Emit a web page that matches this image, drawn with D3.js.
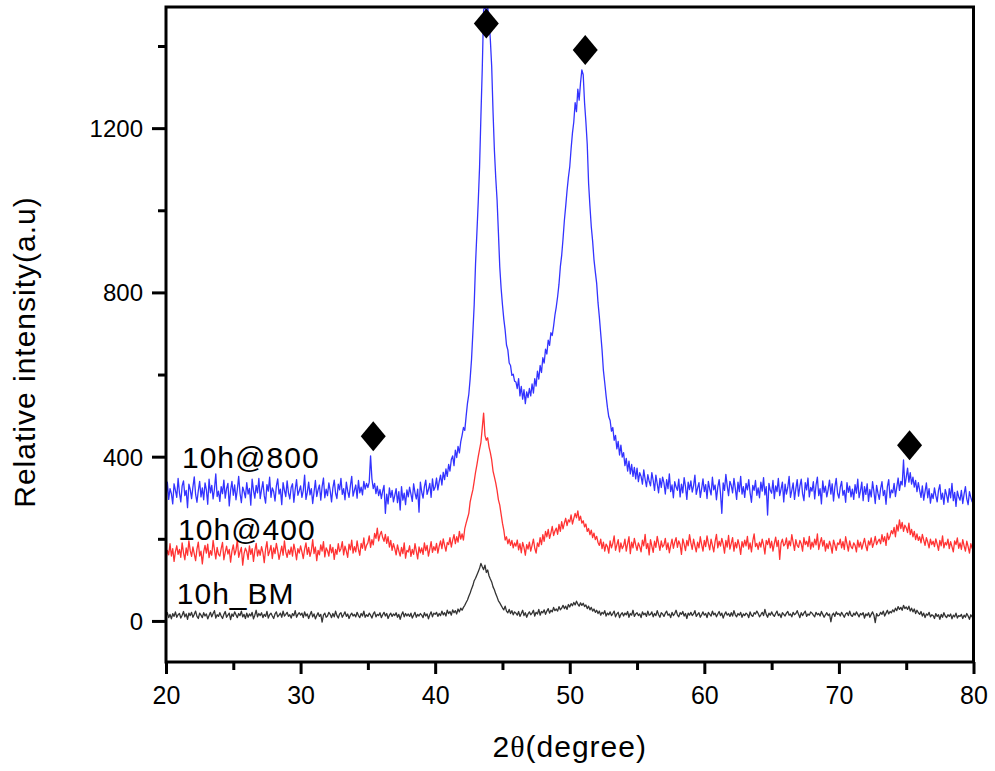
<!DOCTYPE html>
<html lang="en">
<head>
<meta charset="UTF-8">
<title>XRD patterns</title>
<script src="https://d3js.org/d3.v7.min.js"></script>
<style>
  body { margin: 0; background: #fff; }
  svg text { font-family: "Liberation Sans", Arial, sans-serif; fill: #000; }
</style>
</head>
<body>
<div id="chart"></div>
<script>
// sampling grid of the scans: 20.0 .. 80.0 in 0.1 degree steps
const thetaStart = 20, thetaStep = 0.1;

const xTicks = [20, 30, 40, 50, 60, 70, 80];
const xMinor = [25, 35, 45, 55, 65, 75];
const yTicks = [0, 400, 800, 1200];
const yMinor = [200, 600, 1000, 1400];

// 10h@800 (one row per degree)
const s800 = [
300,338,296,322,310,285,334,318,301,347,
312,290,329,341,305,318,276,333,320,298,
326,351,308,289,317,340,302,324,295,336,
319,284,345,312,330,297,321,358,303,316,
291,327,310,343,299,322,335,280,318,340,
306,331,295,320,352,311,288,326,315,300,
337,309,323,282,345,318,299,330,312,347,
298,320,339,305,287,332,316,350,301,324,
315,292,328,346,309,321,283,337,318,303,
341,312,297,325,334,289,320,344,306,317,
329,301,318,355,296,313,338,307,322,286,
314,342,303,319,331,294,327,348,300,321,
305,336,317,290,324,343,311,298,333,319,
347,308,322,295,338,316,301,329,352,304,
318,331,299,342,312,326,307,340,321,335,
325,338,402,346,322,335,310,328,305,320,
298,316,330,262,309,285,324,301,318,290,
306,322,288,315,270,327,294,311,283,319,
302,326,309,291,334,312,297,321,265,338,
314,299,327,343,308,320,335,301,346,318,
326,348,319,339,355,331,362,344,370,352,
381,365,393,402,378,416,398,425,409,436,
452,471,464,498,530,552,590,636,701,770,
870,945,1020,1106,1230,1345,1488,1496,1480,1496,
1465,1415,1350,1240,1147,1080,1025,945,862,810,
770,735,708,672,660,628,622,598,601,584,
582,566,590,548,571,540,563,529,558,544,
566,548,577,555,590,572,608,589,622,605,
641,628,662,650,684,671,702,695,718,745,
765,790,820,862,890,930,975,1010,1048,1080,
1106,1150,1188,1215,1262,1240,1295,1268,1310,1342,
1330,1262,1215,1160,1066,1010,960,925,880,850,
822,775,740,700,660,610,580,548,520,497,
488,462,471,440,452,419,437,404,428,399,
410,378,396,365,389,358,381,352,374,346,
372,339,361,352,333,368,345,327,356,340,
329,361,342,318,355,334,312,347,325,350,
336,309,344,322,358,315,331,300,339,326,
318,345,302,333,312,349,327,296,338,320,
341,314,329,355,308,324,337,301,322,346,
315,332,298,340,321,307,350,319,331,295,
326,344,311,262,336,318,357,329,305,340,
330,312,347,323,296,338,315,352,309,327,
301,335,319,344,312,289,330,318,342,306,
324,300,338,316,349,307,327,258,335,318,
311,342,298,329,315,347,305,321,338,290,
333,309,325,352,301,318,336,296,322,344,
304,328,345,310,293,337,319,348,302,325,
316,339,297,331,350,305,322,285,341,313,
328,302,320,343,309,334,292,326,347,311,
299,325,340,306,318,289,337,313,328,302,
321,296,332,311,345,300,316,338,293,327,
308,334,291,320,302,339,315,286,330,311,
296,322,339,305,318,284,327,344,300,319,
312,335,303,326,348,318,340,331,392,327,
349,372,338,361,333,350,326,342,315,337,
318,301,329,294,315,336,300,322,287,310,
298,324,305,290,318,332,296,311,284,320,
307,289,322,300,335,293,313,279,316,302,
294,318,286,309,327,297,283,315,301,290,
312
];

// 10h@400
const s400 = [
150,172,161,188,158,176,145,169,183,162,
174,155,190,166,149,178,160,195,171,157,
180,163,147,175,192,158,170,139,168,184,
165,187,154,171,160,196,173,151,179,162,
158,176,191,149,167,182,163,174,143,170,
185,161,172,198,155,168,179,136,164,177,
169,150,183,162,176,145,171,189,158,173,
160,181,167,142,175,193,159,170,184,152,
178,164,189,171,150,166,182,160,195,168,
155,173,162,180,158,187,171,149,176,165,
183,168,152,175,190,162,179,157,171,198,
164,180,147,172,161,185,170,193,156,178,
171,158,186,166,179,150,174,162,188,169,
176,193,161,182,170,155,187,173,197,165,
181,168,195,174,160,189,177,202,172,184,
190,207,179,198,185,213,201,226,195,210,
218,203,194,211,189,205,180,196,172,188,
176,161,185,170,158,179,164,190,153,172,
168,183,157,174,162,188,170,151,180,166,
178,162,190,171,184,158,175,193,167,181,
172,189,165,182,195,176,200,184,170,191,
186,203,180,197,210,188,205,192,218,199,
212,197,225,238,250,262,290,305,319,340,
362,380,400,418,435,470,506,452,440,446,
424,410,392,365,351,336,318,295,282,260,
238,221,197,205,188,199,184,196,178,190,
182,197,173,188,166,191,179,160,186,175,
192,170,184,199,177,165,190,181,203,186,
210,194,218,205,223,201,214,230,208,219,
226,211,235,218,242,224,238,250,232,246,
241,258,236,249,262,251,268,245,255,238,
244,229,236,218,225,210,221,203,214,198,
206,191,184,199,176,192,170,187,181,165,
195,178,189,207,172,185,198,168,190,176,
183,199,170,188,205,164,192,178,201,185,
172,190,181,168,197,183,211,176,189,161,
198,182,167,194,179,206,188,172,195,180,
185,201,174,190,166,184,199,177,192,203,
179,195,186,162,200,187,171,196,183,210,
190,174,199,183,168,192,178,205,186,170,
196,181,207,188,173,199,184,168,193,211,
178,194,182,201,187,165,196,180,208,175,
189,203,170,191,178,198,184,162,193,180,
197,183,206,175,190,168,195,212,181,189,
174,192,180,199,185,163,196,186,201,178,
194,170,188,204,181,196,150,189,199,183,
187,202,176,195,183,210,191,172,198,184,
179,196,188,170,203,186,194,181,206,175,
192,180,199,185,212,174,190,203,182,196,
170,188,176,194,183,165,197,185,172,190,
186,199,178,193,174,205,187,170,195,181,
176,190,184,168,197,180,192,175,188,201,
183,171,195,185,202,179,190,206,186,194,
199,188,210,193,205,184,214,198,207,220,
212,228,205,234,219,246,225,240,218,233,
227,215,238,210,223,205,218,198,212,196,
205,190,211,197,184,203,192,178,199,186,
194,181,200,187,172,196,183,207,178,191,
185,199,176,193,181,168,195,186,202,177,
190,174,198,183,170,194,181,165,188,177,
192
];

// 10h_BM
const sBM = [
12,20,8,16,5,18,11,22,9,15,
18,7,14,23,10,17,4,19,13,21,
9,16,24,11,6,19,14,8,20,12,
17,5,13,21,10,18,25,7,15,11,
20,12,6,16,23,9,14,19,3,17,
11,22,15,8,18,13,24,10,16,6,
19,9,17,12,21,5,14,26,10,18,
13,20,8,16,11,23,7,15,19,12,
6,17,22,10,14,19,9,24,12,16,
21,11,15,7,18,13,25,9,16,20,
14,19,8,22,12,17,6,15,23,10,
17,5,13,20,11,16,-3,14,19,9,
12,21,16,8,18,10,24,13,7,17,
20,9,15,22,11,17,6,14,19,12,
16,10,21,13,8,18,12,24,9,15,
11,19,14,7,17,22,10,16,13,20,
8,15,21,12,18,6,14,19,11,17,
13,20,9,16,4,15,22,10,18,12,
17,11,19,7,14,21,9,16,12,18,
14,8,20,12,17,5,15,22,10,19,
16,21,11,18,13,24,15,20,12,26,
18,23,14,27,20,25,17,29,22,31,
26,33,38,45,51,60,68,78,86,98,
104,112,120,128,140,132,125,136,118,124,
110,102,95,83,76,66,58,49,44,38,
32,27,36,24,20,28,18,25,15,22,
19,14,23,11,18,26,13,20,9,17,
22,15,19,26,12,21,17,28,14,23,
20,27,16,24,30,19,26,22,33,25,
29,24,35,27,31,38,30,36,28,40,
34,42,37,45,39,48,41,36,44,38,
43,35,39,30,36,27,33,24,29,21,
26,18,24,14,21,17,25,12,19,15,
22,13,18,24,10,17,21,8,16,20,
12,19,15,23,9,18,14,26,11,17,
20,13,17,8,22,15,19,11,24,14,
16,22,10,18,13,25,15,9,20,17,
11,19,24,14,17,8,21,13,18,26,
15,10,20,16,23,12,18,6,19,14,
21,13,17,25,11,16,20,9,15,22,
14,18,8,21,16,12,24,15,19,10,
17,23,13,19,7,16,22,14,18,11,
20,12,25,15,10,18,14,21,9,17,
13,19,16,8,22,14,11,20,17,24,
18,10,15,21,13,28,16,9,19,14,
22,15,11,18,24,13,17,8,20,16,
12,19,23,14,17,10,21,15,18,25,
16,8,20,13,19,24,11,17,14,22,
19,14,10,21,15,18,12,23,16,9,
15,20,13,17,-2,14,19,11,22,16,
18,12,21,15,9,17,20,13,24,14,
11,19,14,22,16,10,18,15,20,7,
17,13,20,9,16,22,14,-4,18,12,
14,21,16,24,12,19,26,17,23,20,
27,22,31,25,35,28,33,26,38,30,
34,28,36,24,31,22,29,18,26,20,
16,23,12,19,8,17,14,21,10,15,
13,6,18,11,15,4,16,9,20,12,
8,15,11,17,5,14,10,19,7,13,
11,16,6,14,9,18,12,4,15,10,
12
];

const seriesNames = ["10h_BM", "10h@400", "10h@800"];
const seriesData = [sBM, s400, s800];

// diamond peak markers [2theta, intensity]
const peakTheta = [35.4, 43.8, 51.15, 75.25];
const peakValue = [450, 1455, 1390, 428];

const W = 995, H = 771;
const colors = ["#333333", "#ff3333", "#3333ff"];

const svg = d3.select("#chart").append("svg")
    .attr("width", W)
    .attr("height", H)
    .style("background", "#fff");

const x = d3.scaleLinear().domain([20, 80]).range([166, 973.5]);
const y = d3.scaleLinear().domain([-100, 1495]).range([662, 7]);

// clip so the tall peak stays inside the frame
svg.append("defs").append("clipPath")
    .attr("id", "clip")
  .append("rect")
    .attr("x", x(20))
    .attr("y", y(1495))
    .attr("width", x(80) - x(20))
    .attr("height", y(-100) - y(1495));

const line = d3.line()
    .x((d, i) => x(thetaStart + i * thetaStep))
    .y(d => y(d));

svg.append("g")
    .attr("clip-path", "url(#clip)")
  .selectAll("path")
  .data(seriesData)
  .join("path")
    .attr("d", d => line(d))
    .attr("fill", "none")
    .attr("stroke", (d, i) => colors[i])
    .attr("stroke-width", 1.3)
    .attr("stroke-linejoin", "round");

// axes
function styleAxis(g) {
    g.select(".domain").remove();
    g.selectAll(".tick line").attr("stroke", "#000").attr("stroke-width", 3);
}

svg.append("g")
    .attr("transform", `translate(0,${y(-100)})`)
    .call(d3.axisBottom(x).tickValues(xMinor).tickSize(8).tickFormat(""))
    .call(styleAxis);

svg.append("g")
    .attr("transform", `translate(0,${y(-100)})`)
    .call(d3.axisBottom(x).tickValues(xTicks).tickSize(12).tickPadding(12).tickFormat(d3.format("d")))
    .call(styleAxis)
    .call(g => g.selectAll("text").attr("font-size", 25).attr("fill", "#000"));

svg.append("g")
    .attr("transform", `translate(${x(20)},0)`)
    .call(d3.axisLeft(y).tickValues(yMinor).tickSize(8).tickFormat(""))
    .call(styleAxis);

svg.append("g")
    .attr("transform", `translate(${x(20)},0)`)
    .call(d3.axisLeft(y).tickValues(yTicks).tickSize(14).tickPadding(9).tickFormat(d3.format("d")))
    .call(styleAxis)
    .call(g => g.selectAll("text").attr("font-size", 24).attr("dy", "0.35em").attr("fill", "#000"));

// frame
svg.append("rect")
    .attr("x", x(20))
    .attr("y", y(1495))
    .attr("width", x(80) - x(20))
    .attr("height", y(-100) - y(1495))
    .attr("fill", "none")
    .attr("stroke", "#000")
    .attr("stroke-width", 3);

// peak markers
svg.append("g")
  .selectAll("path")
  .data(peakTheta)
  .join("path")
    .attr("transform", (d, i) => `translate(${x(d)},${y(peakValue[i])})`)
    .attr("d", "M0,-15L12.5,0L0,15L-12.5,0Z")
    .attr("fill", "#000");

// series labels
const labelPos = [[20.8, 41], [20.9, 197], [21.19, 372]];
svg.append("g")
  .selectAll("text")
  .data(seriesNames)
  .join("text")
    .attr("x", (d, i) => x(labelPos[i][0]))
    .attr("y", (d, i) => y(labelPos[i][1]))
    .attr("font-size", 30)
    .attr("letter-spacing", 1)
    .text(d => d);

// axis titles
const xt = svg.append("text")
    .attr("x", x(50))
    .attr("y", 757)
    .attr("text-anchor", "middle")
    .attr("font-size", 30)
    .attr("letter-spacing", 1);
xt.append("tspan").text("2");
xt.append("tspan").style("font-family", "'Liberation Serif', serif").text("θ");
xt.append("tspan").text("(degree)");

svg.append("text")
    .attr("transform", "translate(35,352) rotate(-90)")
    .attr("text-anchor", "middle")
    .attr("font-size", 30)
    .attr("letter-spacing", 1)
    .text("Relative intensity(a.u)");
</script>
</body>
</html>
